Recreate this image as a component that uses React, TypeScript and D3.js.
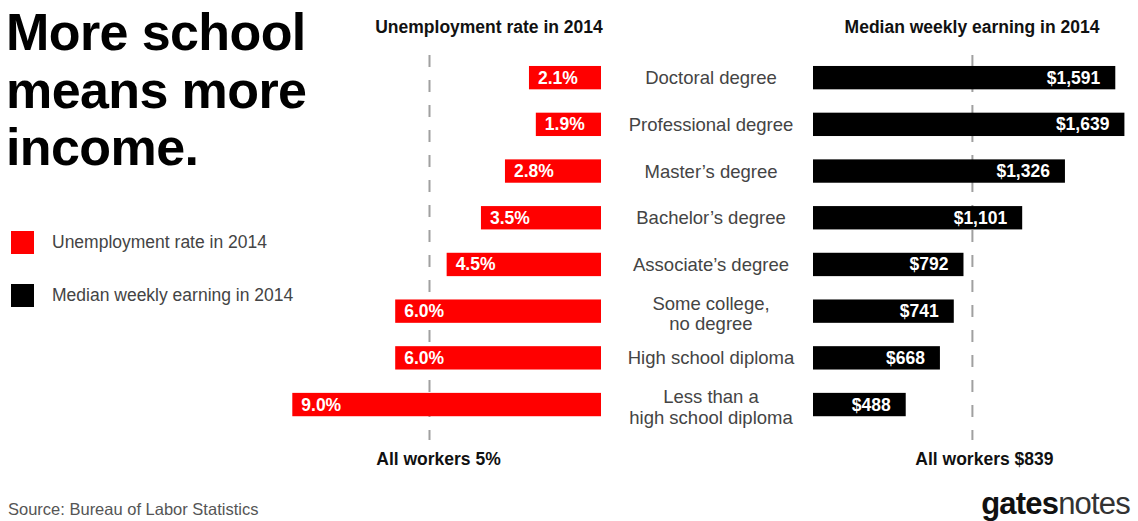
import React, { useEffect, useRef } from 'react';
import * as d3 from 'd3';

// Education levels (label lines), top to bottom
const categories: string[][] = [
  ['Doctoral degree'],
  ['Professional degree'],
  ['Master\u2019s degree'],
  ['Bachelor\u2019s degree'],
  ['Associate\u2019s degree'],
  ['Some college,', 'no degree'],
  ['High school diploma'],
  ['Less than a', 'high school diploma'],
];

// Unemployment rate in 2014 (%)
const unemployment = [2.1, 1.9, 2.8, 3.5, 4.5, 6.0, 6.0, 9.0];

// Median weekly earning in 2014 ($)
const earnings = [1591, 1639, 1326, 1101, 792, 741, 668, 488];

const allWorkersRate = 5;
const allWorkersEarning = 839;

const titleLines = ['More school', 'means more', 'income.'];
const legendItems = [
  { label: 'Unemployment rate in 2014', color: '#ff0000' },
  { label: 'Median weekly earning in 2014', color: '#000000' },
];

const FONT = '"Liberation Sans", Arial, Helvetica, sans-serif';
const WIDTH = 1138;
const HEIGHT = 521;

export default function App() {
  const svgRef = useRef<SVGSVGElement>(null);

  useEffect(() => {
    if (!svgRef.current) return;
    const svg = d3.select(svgRef.current);
    svg.selectAll('*').remove();
    svg.attr('width', WIDTH).attr('height', HEIGHT).style('font-family', FONT);

    svg.append('rect').attr('width', WIDTH).attr('height', HEIGHT).attr('fill', '#fff');

    const idx = categories.map((_, i) => i);

    const y = d3.scaleBand<number>()
      .domain(idx)
      .range([54.3, 427.9])
      .paddingInner(0.5)
      .paddingOuter(0.25);

    // red bars grow leftwards from x=601
    const xRate = d3.scaleLinear().domain([0, 9]).range([601, 601 - 9 * 34.3]);
    // black bars grow rightwards from x=813
    const xEarn = d3.scaleLinear().domain([0, 1000]).range([813, 813 + 190]);

    // Title
    const title = svg.append('text')
      .attr('x', 6)
      .attr('font-size', 52)
      .attr('font-weight', 'bold')
      .attr('fill', '#000')
      .attr('letter-spacing', -0.6);
    titleLines.forEach((line, i) => {
      title.append('tspan').attr('x', 6).attr('y', 50 + i * 57.5).text(line);
    });

    // Legend
    legendItems.forEach((d, i) => {
      const ly = 231 + i * 53;
      svg.append('rect')
        .attr('x', 11).attr('y', ly).attr('width', 23).attr('height', 23)
        .attr('fill', d.color);
      svg.append('text')
        .attr('x', 52).attr('y', ly + 17)
        .attr('font-size', 17.5).attr('fill', '#444')
        .text(d.label);
    });

    // Column headers
    svg.append('text')
      .attr('x', 489).attr('y', 33)
      .attr('text-anchor', 'middle')
      .attr('font-size', 17.5).attr('font-weight', 'bold').attr('fill', '#111')
      .text('Unemployment rate in 2014');
    svg.append('text')
      .attr('x', 972).attr('y', 33)
      .attr('text-anchor', 'middle')
      .attr('font-size', 17.5).attr('font-weight', 'bold').attr('fill', '#111')
      .text('Median weekly earning in 2014');

    // Reference lines (all workers)
    const refRate = xRate(allWorkersRate);
    const refEarn = xEarn(allWorkersEarning);
    [refRate, refEarn].forEach(x => {
      svg.append('line')
        .attr('x1', x).attr('x2', x)
        .attr('y1', 55).attr('y2', 440)
        .attr('stroke', '#a0a0a0')
        .attr('stroke-width', 2)
        .attr('stroke-dasharray', '12 13');
    });

    // Unemployment bars
    svg.selectAll('rect.rate')
      .data(unemployment)
      .enter()
      .append('rect')
      .attr('class', 'rate')
      .attr('x', d => xRate(d))
      .attr('y', (_, i) => y(i)!)
      .attr('width', d => xRate(0) - xRate(d))
      .attr('height', y.bandwidth())
      .attr('fill', '#ff0000');

    svg.selectAll('text.rate')
      .data(unemployment)
      .enter()
      .append('text')
      .attr('class', 'rate')
      .attr('x', d => xRate(d) + 9)
      .attr('y', (_, i) => y(i)! + y.bandwidth() / 2 + 6)
      .attr('font-size', 17.5).attr('font-weight', 'bold').attr('fill', '#fff')
      .text(d => `${d.toFixed(1)}%`);

    // Earnings bars
    svg.selectAll('rect.earn')
      .data(earnings)
      .enter()
      .append('rect')
      .attr('class', 'earn')
      .attr('x', xEarn(0))
      .attr('y', (_, i) => y(i)!)
      .attr('width', d => xEarn(d) - xEarn(0))
      .attr('height', y.bandwidth())
      .attr('fill', '#000');

    svg.selectAll('text.earn')
      .data(earnings)
      .enter()
      .append('text')
      .attr('class', 'earn')
      .attr('x', d => xEarn(d) - 15)
      .attr('y', (_, i) => y(i)! + y.bandwidth() / 2 + 6)
      .attr('text-anchor', 'end')
      .attr('font-size', 17.5).attr('font-weight', 'bold').attr('fill', '#fff')
      .text(d => `$${d3.format(',')(d)}`);

    // Category labels
    categories.forEach((lines, i) => {
      const cy = y(i)! + y.bandwidth() / 2;
      const t = svg.append('text')
        .attr('text-anchor', 'middle')
        .attr('font-size', 18.5)
        .attr('fill', '#444');
      const offsets = lines.length === 1 ? [6.5] : [-1.5, 19];
      lines.forEach((line, j) => {
        t.append('tspan').attr('x', 711).attr('y', cy + offsets[j]).text(line);
      });
    });

    // All workers labels
    svg.append('text')
      .attr('x', refRate + 9).attr('y', 465)
      .attr('text-anchor', 'middle')
      .attr('font-size', 17.5).attr('font-weight', 'bold').attr('fill', '#111')
      .text(`All workers ${allWorkersRate}%`);
    svg.append('text')
      .attr('x', refEarn + 12).attr('y', 465)
      .attr('text-anchor', 'middle')
      .attr('font-size', 17.5).attr('font-weight', 'bold').attr('fill', '#111')
      .text(`All workers $${allWorkersEarning}`);

    // Source
    svg.append('text')
      .attr('x', 8).attr('y', 515)
      .attr('font-size', 16.5).attr('fill', '#555')
      .text('Source: Bureau of Labor Statistics');

    // gatesnotes logo
    const logo = svg.append('text')
      .attr('x', 1130).attr('y', 514)
      .attr('text-anchor', 'end')
      .attr('font-size', 31)
      .attr('letter-spacing', -0.8)
      .attr('fill', '#111');
    logo.append('tspan').attr('font-weight', 'bold').text('gates');
    logo.append('tspan').attr('font-weight', 'normal').attr('fill', '#333').text('notes');
  }, []);

  return (
    <svg
      ref={svgRef}
      style={{ position: 'absolute', left: 0, top: 0, display: 'block' }}
    />
  );
}
